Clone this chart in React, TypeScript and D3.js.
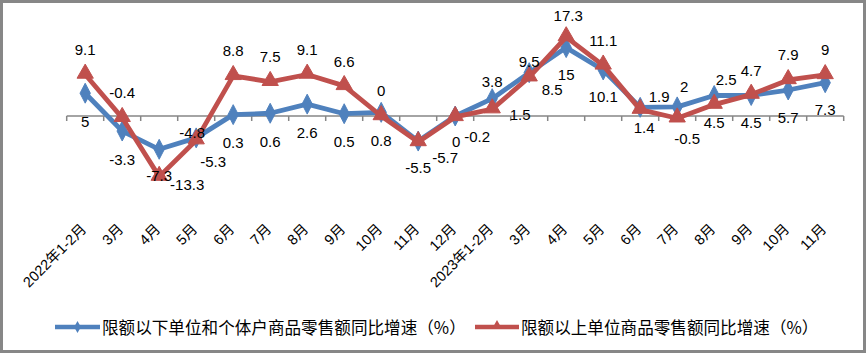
import React from "react";
import * as d3 from "d3";

const categories = [
  "2022年1-2月", "3月", "4月", "5月", "6月", "7月", "8月", "9月", "10月", "11月", "12月",
  "2023年1-2月", "3月", "4月", "5月", "6月", "7月", "8月", "9月", "10月", "11月",
];
const belowLimit = [5, -3.3, -7.3, -4.8, 0.3, 0.6, 2.6, 0.5, 0.8, -5.5, 0, 3.8, 9.5, 15, 10.1, 1.9, 2, 4.5, 4.5, 5.7, 7.3];
const aboveLimit = [9.1, -0.4, -13.3, -5.3, 8.8, 7.5, 9.1, 6.6, 0, -5.7, -0.2, 1.5, 8.5, 17.3, 11.1, 1.4, -0.5, 2.5, 4.7, 7.9, 9];
const seriesNames = [
  "限额以下单位和个体户商品零售额同比增速（%）",
  "限额以上单位商品零售额同比增速（%）",
];

// label offsets (styling only)
const blueLabelOffset: [number, number][] = [
  [0, 28], [0, 28], [0, 26], [-4, -5], [0, 28], [0, 28], [0, 28], [0, 28], [0, 28], [0, 26], [1, 25],
  [0, -17], [0, -11], [0, 27], [0, 27], [19, -11], [7, -20], [0, 27], [0, 27], [0, 27], [0, 27],
];
const redLabelOffset: [number, number][] = [
  [0, -25], [0, -25], [28, 8], [17, 21], [0, -25], [0, -25], [0, -25], [0, -24], [0, -26], [27, 16], [22, 20],
  [28, 5], [23, 12], [2, -22], [0, -25], [4, 18], [10, 20], [12, -25], [0, -24], [0, -25], [0, -25],
];

const W = 867;
const H = 357;
const BLUE = "#4F81BD";
const RED = "#C0504D";
const FONT = "'Liberation Sans', 'Noto Sans CJK SC', sans-serif";

export default function App() {
  const x = d3.scaleBand<number>().domain(d3.range(categories.length)).range([66.7, 843.7]).padding(0);
  const y = d3.scaleLinear().domain([-20, 20]).range([116 + 91.2, 116 - 91.2]);
  const cx = (i: number) => (x(i) as number) + x.bandwidth() / 2;
  const y0 = y(0);

  const line = d3.line<number>().x((_, i) => cx(i)).y((d) => y(d));
  const diamond = d3.symbol().type(d3.symbolDiamond).size(115)() as string;
  const triangle = d3.symbol().type(d3.symbolTriangle).size(115)() as string;
  const diamondSmall = d3.symbol().type(d3.symbolDiamond).size(40)() as string;
  const triangleSmall = d3.symbol().type(d3.symbolTriangle).size(45)() as string;

  const tickXs = d3.range(categories.length + 1).map((i) =>
    i < categories.length ? (x(i) as number) : (x(categories.length - 1) as number) + x.bandwidth()
  );

  return (
    <svg width={W} height={H} style={{ position: "absolute", left: 0, top: 0, background: "#fff" }} fontFamily={FONT}>
      <rect x={0} y={0} width={W} height={H} fill="#fff" />
      <rect x={1.5} y={1.5} width={863} height={350} fill="none" stroke="#878787" strokeWidth={3} />

      {/* zero axis */}
      <line x1={tickXs[0]} x2={tickXs[tickXs.length - 1]} y1={y0} y2={y0} stroke="#868686" strokeWidth={1.5} />
      {tickXs.map((tx, i) => (
        <line key={i} x1={tx} x2={tx} y1={y0} y2={y0 + 5} stroke="#868686" strokeWidth={1.5} />
      ))}

      {/* x labels */}
      {categories.map((c, i) => (
        <text
          key={i}
          transform={`translate(${cx(i) + 2},${230}) rotate(-45)`}
          textAnchor="end"
          fontSize={14.5}
          fill="#000"
        >
          {c}
        </text>
      ))}

      {/* blue series */}
      <path d={line(belowLimit) as string} fill="none" stroke={BLUE} strokeWidth={4.8} strokeLinejoin="round" />
      {belowLimit.map((v, i) => (
        <path key={i} d={diamond} transform={`translate(${cx(i)},${y(v)}) scale(0.9,1)`} fill={BLUE} stroke={BLUE} strokeWidth={1} />
      ))}

      {/* red series */}
      <path d={line(aboveLimit) as string} fill="none" stroke={RED} strokeWidth={4.8} strokeLinejoin="round" />
      {aboveLimit.map((v, i) => (
        <path key={i} d={triangle} transform={`translate(${cx(i)},${y(v) - 1})`} fill={RED} stroke={RED} strokeWidth={1} />
      ))}

      {/* data labels */}
      {belowLimit.map((v, i) => (
        <text key={"b" + i} x={cx(i) + blueLabelOffset[i][0]} y={y(v) + blueLabelOffset[i][1]} textAnchor="middle" dominantBaseline="central" fontSize={15} fill="#000">
          {String(v)}
        </text>
      ))}
      {aboveLimit.map((v, i) => (
        <text key={"r" + i} x={cx(i) + redLabelOffset[i][0]} y={y(v) + redLabelOffset[i][1]} textAnchor="middle" dominantBaseline="central" fontSize={15} fill="#000">
          {String(v)}
        </text>
      ))}

      {/* legend */}
      <g>
        <line x1={55} x2={100} y1={327} y2={327} stroke={BLUE} strokeWidth={4.5} />
        <path d={diamondSmall} transform="translate(77.5,327)" fill={BLUE} />
        <text x={102} y={327} dominantBaseline="central" fontSize={16.6} fill="#000" fontFamily="'Noto Sans CJK SC', sans-serif">
          {seriesNames[0]}
        </text>
        <line x1={475} x2={519} y1={327} y2={327} stroke={RED} strokeWidth={4.5} />
        <path d={triangleSmall} transform="translate(497,326)" fill={RED} />
        <text x={521} y={327} dominantBaseline="central" fontSize={16.6} fill="#000" fontFamily="'Noto Sans CJK SC', sans-serif">
          {seriesNames[1]}
        </text>
      </g>
    </svg>
  );
}
